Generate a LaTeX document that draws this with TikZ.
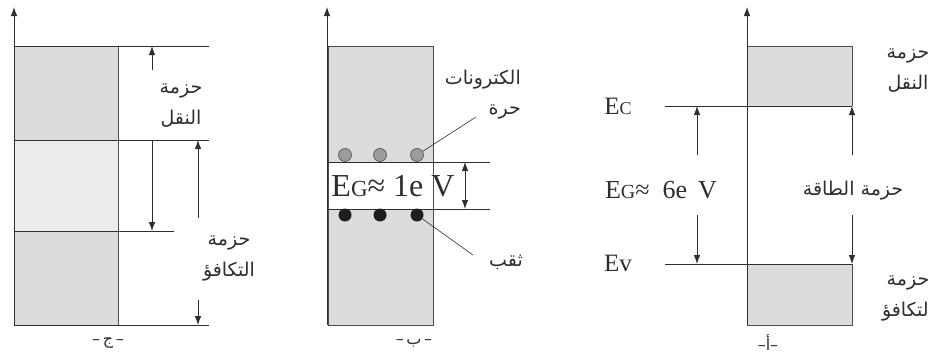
\documentclass[tikz,border=0pt]{standalone}
\usepackage{fontspec}
\setmainfont{Liberation Serif}
\newfontfamily\arabicfont[Script=Arabic]{DejaVu Sans}
\TeXXeTstate=1
\usetikzlibrary{arrows.meta}
\definecolor{ink}{HTML}{2E2E2E}
\definecolor{band}{HTML}{DCDCDC}
\definecolor{bandlight}{HTML}{ECECEC}
\definecolor{electron}{HTML}{9C9C9C}
\definecolor{hole}{HTML}{1E1E1E}

\begin{document}
\begin{tikzpicture}[
  x=1pt,
  y=-1pt,
  >={Latex[length=9pt,width=6.5pt]},
  level/.style={line width=0.8pt, color=ink},
  edge/.style={line width=0.9pt, color=ink!85},
  gap/.style={->, line width=0.8pt, color=ink},
  axis/.style={->, line width=0.8pt, color=ink},
  leader/.style={line width=0.6pt, color=ink},
  ar/.style={font=\arabicfont\fontsize{19}{31}\selectfont, align=center,
             text=ink, inner sep=0pt},
  en/.style={font=\fontsize{25}{25}\selectfont, text=ink, inner sep=0pt},
  caption/.style={font=\arabicfont\fontsize{16}{16}\selectfont, text=ink, inner sep=0pt},
  electronDot/.style={circle, draw=ink!80, fill=electron, line width=0.7pt,
                      minimum size=13pt, inner sep=0pt},
  holeDot/.style={circle, fill=hole, minimum size=13pt, inner sep=0pt},
]
\useasboundingbox (0,0) rectangle (928,356);

% -ج- : conductor, bands overlap
\fill[band] (14,46) rectangle (118,140);
\fill[bandlight] (14,140) rectangle (118,231);
\fill[band] (14,231) rectangle (118,325);
\draw[edge] (118,46) -- (118,325);
\draw[level] (14,46) -- (209,46);
\draw[level] (14,140) -- (209,140);
\draw[level] (14,231) -- (174,231);
\draw[level] (14,325) -- (209,325);
\coordinate (jBase) at (14,325);
\coordinate (jTip) at (14,7);
\draw[axis] (jBase) -- (jTip);

\coordinate (jCondTail) at (152,70);
\coordinate (jCondTop) at (152,46);
\coordinate (jOverTop) at (152,140);
\coordinate (jOverBot) at (152,231);
\coordinate (jValTail) at (198,218);
\coordinate (jValTop) at (198,140);
\coordinate (jValTail2) at (198,300);
\coordinate (jValBot) at (198,325);
\draw[gap] (jCondTail) -- (jCondTop);
\draw[gap] (jOverTop) -- (jOverBot);
\draw[gap] (jValTail) -- (jValTop);
\draw[gap] (jValTail2) -- (jValBot);

\node[ar] (jCond) at (181,106) {\beginR حزمة\endR\\\beginR النقل\endR};
\node[ar] (jVal) at (229,258) {\beginR حزمة\endR\\\beginR التكافؤ\endR};
\node[caption] (jCap) at (108,343) {\beginR –\,ج\,–\endR};

% -ب- : semiconductor, small gap
\fill[band] (328,46) rectangle (433,325);
\fill[white] (328,162) rectangle (433,209);
\draw[edge] (328,46) rectangle (433,325);
\draw[level] (328,162) -- (490,162);
\draw[level] (328,209) -- (490,209);
\coordinate (bBase) at (327,325);
\coordinate (bTip) at (327,7);
\draw[axis] (bBase) -- (bTip);

\coordinate (bGapTop) at (465,162);
\coordinate (bGapBot) at (465,209);
\draw[gap, <->] (bGapTop) -- (bGapBot);

\foreach \i/\x in {1/345, 2/380, 3/417} {
  \node[electronDot] (e\i) at (\x,155) {};
  \node[holeDot] (h\i) at (\x,215) {};
}

\node[en, font=\fontsize{32}{32}\selectfont] (bGap) at (393,186)
  {E{\fontsize{23}{23}\selectfont G}≈ 1e V};

\node[ar, anchor=east] (bFreeA) at (521,80) {\beginR الكترونات\endR};
\node[ar, anchor=east] (bFreeB) at (521,112) {\beginR حرة\endR};
\node[ar] (bHole) at (506,262) {\beginR ثقب\endR};
\coordinate (bFreeEnd) at (476,117);
\coordinate (bHoleEnd) at (473,255);
\draw[leader] (bFreeEnd) -- (e3);
\draw[leader] (bHoleEnd) -- (h3);
\node[caption] (bCap) at (414,343) {\beginR –\,ب\,–\endR};

% -أ- : insulator, wide gap
\fill[band] (747,46) rectangle (852,106);
\fill[band] (747,264) rectangle (852,325);
\draw[edge] (747,106) -- (747,46) -- (852,46) -- (852,106);
\draw[edge] (747,264) -- (747,325) -- (852,325) -- (852,264);
\draw[level] (665,106) -- (852,106);
\draw[level] (665,264) -- (852,264);
\coordinate (aBase) at (747,325);
\coordinate (aTip) at (747,7);
\draw[axis] (aBase) -- (aTip);

\node[en] (aEc) at (618,106) {E{\fontsize{18}{18}\selectfont C}};
\node[en] (aEv) at (618,263) {Ev};
\node[en, font=\fontsize{26}{26}\selectfont] (aGap) at (661,190)
  {E{\fontsize{20}{20}\selectfont G}≈\hspace{13pt}6e\hspace{11pt}V};

\coordinate (aLeftUpTail) at (697,155);
\coordinate (aLeftUp) at (697,106);
\coordinate (aLeftDnTail) at (697,215);
\coordinate (aLeftDn) at (697,264);
\coordinate (aRightUpTail) at (852,155);
\coordinate (aRightUp) at (852,106);
\coordinate (aRightDnTail) at (852,215);
\coordinate (aRightDn) at (852,264);
\draw[gap] (aLeftUpTail) -- (aLeftUp);
\draw[gap] (aLeftDnTail) -- (aLeftDn);
\draw[gap] (aRightUpTail) -- (aRightUp);
\draw[gap] (aRightDnTail) -- (aRightDn);

\node[ar] (aForbid) at (853,191) {\beginR حزمة الطاقة\endR};
\node[ar] (aCond) at (908,71) {\beginR حزمة\endR\\\beginR النقل\endR};
\node[ar] (aVal) at (908,298) {\beginR حزمة\endR\\\beginR التكافؤ\endR};
\node[caption] (aCap) at (768,343) {\beginR –أ–\endR};

\end{tikzpicture}
\end{document}
